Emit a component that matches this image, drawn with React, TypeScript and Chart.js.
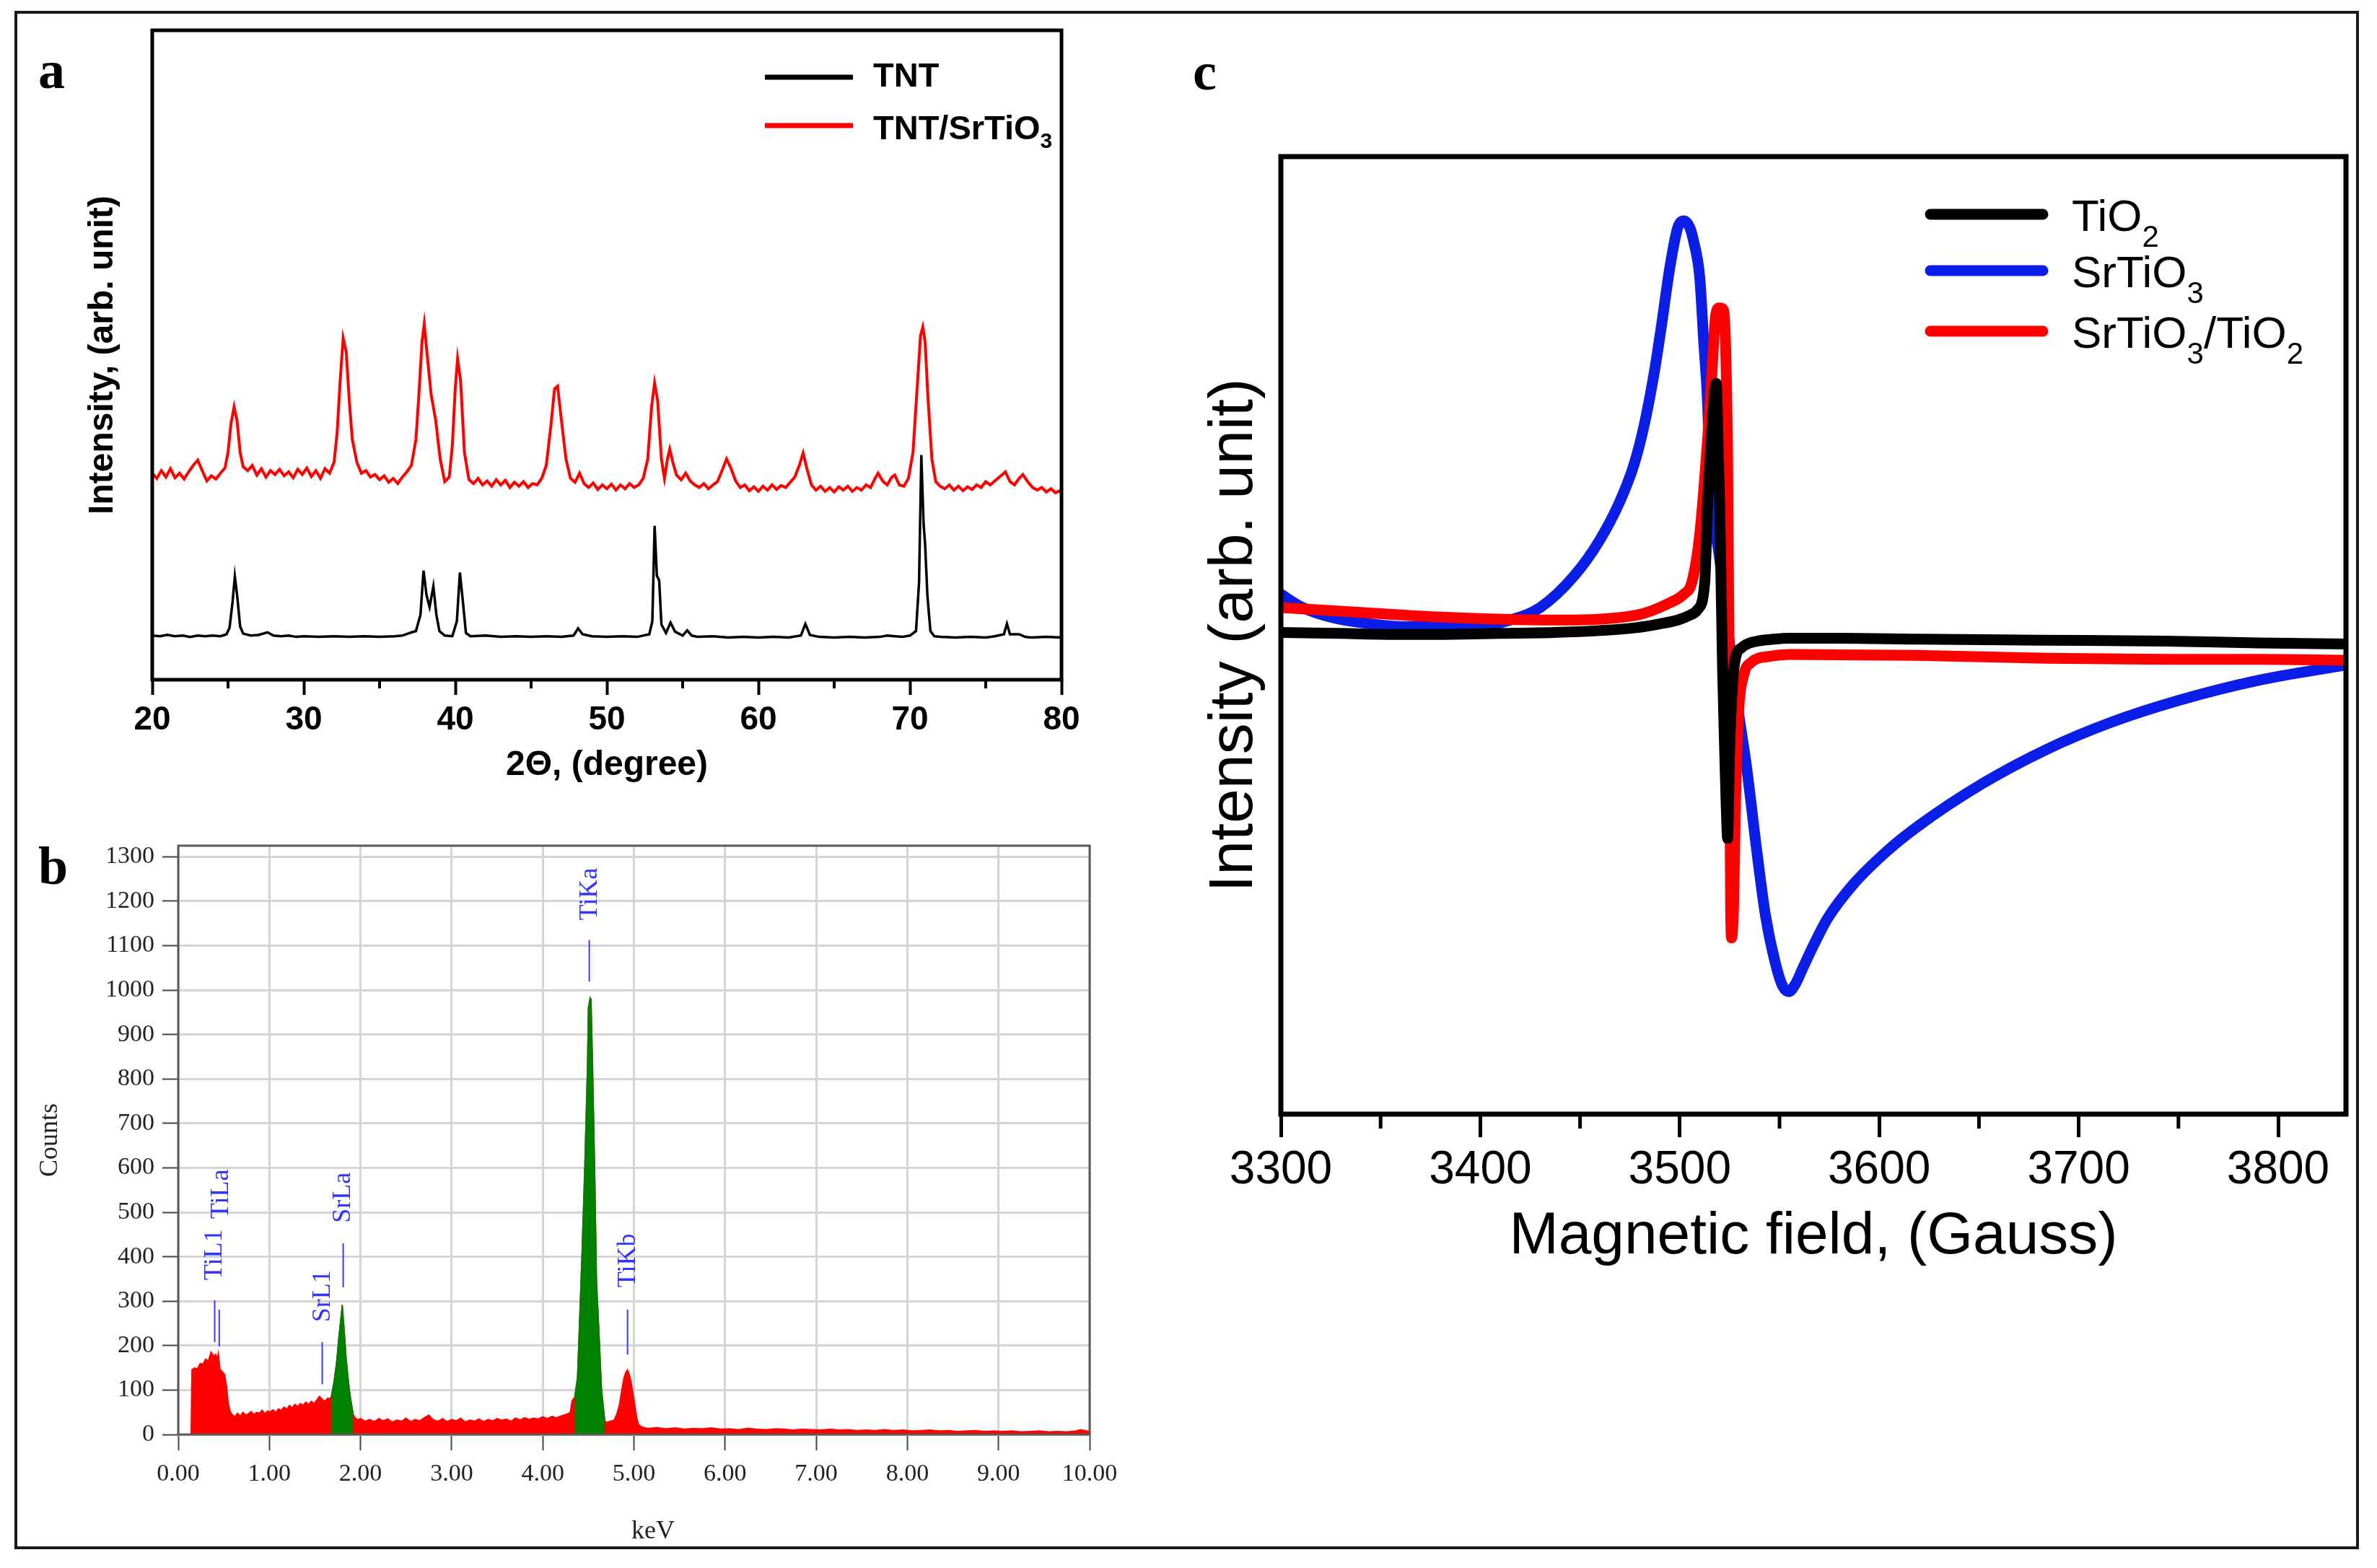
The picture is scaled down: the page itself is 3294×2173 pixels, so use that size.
import React, { useEffect, useRef } from 'react';
import { Chart, registerables } from 'chart.js';

Chart.register(...registerables);

const SANS = "'Liberation Sans', Arial, Helvetica, sans-serif";
const SERIF = "'Liberation Serif', 'Times New Roman', Times, serif";

// ---------------- Panel a : XRD ----------------
const xrdTicks = [20, 30, 40, 50, 60, 70, 80];
const xrdMinorTicks = [25, 35, 45, 55, 65, 75];
const xrdTNT: number[][] = [
  [20.0, 68], [20.5, 67], [21.0, 69], [21.5, 67], [22.0, 68], [22.5, 66], [23.0, 68], [23.5, 67], [24.0, 68], [24.5, 67],
  [24.9, 70], [25.1, 80], [25.3, 120], [25.45, 159], [25.6, 130], [25.8, 82], [26.0, 71], [26.5, 68], [27.0, 69], [27.6, 73],
  [28.0, 68], [28.5, 67], [29.0, 68], [29.5, 66], [30.0, 67], [31.0, 66], [32.0, 67], [33.0, 66], [34.0, 67], [35.0, 66],
  [36.0, 67], [36.5, 68], [37.0, 72], [37.4, 75], [37.7, 100], [37.9, 168], [38.1, 130], [38.3, 112], [38.55, 144], [38.75, 100],
  [38.95, 75], [39.3, 68], [39.8, 67], [40.1, 90], [40.3, 165], [40.5, 120], [40.7, 72], [41.0, 67], [42.0, 68], [43.0, 66],
  [44.0, 67], [45.0, 66], [46.0, 67], [47.0, 66], [47.8, 68], [48.1, 79], [48.4, 70], [49.0, 67], [50.0, 66], [51.0, 67],
  [52.0, 66], [52.8, 70], [53.0, 90], [53.15, 237], [53.3, 160], [53.45, 153], [53.6, 85], [53.9, 72], [54.2, 88], [54.5, 74],
  [55.0, 68], [55.3, 76], [55.6, 68], [56.0, 66], [57.0, 67], [58.0, 65], [59.0, 66], [60.0, 65], [61.0, 66], [62.0, 65],
  [62.8, 68], [63.1, 86], [63.4, 69], [64.0, 66], [65.0, 65], [66.0, 66], [67.0, 65], [68.0, 66], [68.5, 68], [69.0, 67],
  [69.5, 66], [70.0, 68], [70.4, 75], [70.6, 150], [70.75, 346], [70.9, 240], [71.0, 209], [71.15, 130], [71.35, 75], [71.6, 67],
  [72.0, 66], [73.0, 65], [74.0, 66], [75.0, 65], [75.6, 67], [76.2, 70], [76.4, 86], [76.6, 70], [77.2, 70], [77.6, 66],
  [78.0, 65], [79.0, 66], [80.0, 65],
];
const xrdTNTSrTiO3: number[][] = [
  [20.0, 318], [20.3, 310], [20.6, 322], [20.9, 312], [21.2, 325], [21.5, 311], [21.8, 318], [22.1, 309], [22.4, 320], [22.7, 330],
  [23.0, 338], [23.3, 322], [23.6, 306], [23.9, 314], [24.2, 309], [24.5, 318], [24.8, 326], [25.0, 350], [25.2, 395], [25.4, 420],
  [25.6, 398], [25.8, 350], [26.0, 328], [26.3, 322], [26.6, 330], [26.9, 315], [27.2, 325], [27.5, 312], [27.8, 322], [28.1, 316],
  [28.4, 324], [28.7, 314], [29.0, 320], [29.3, 311], [29.6, 324], [29.9, 316], [30.2, 326], [30.5, 313], [30.8, 322], [31.1, 310],
  [31.4, 325], [31.7, 318], [32.0, 335], [32.2, 380], [32.4, 460], [32.6, 526], [32.8, 505], [33.0, 430], [33.2, 370], [33.5, 335],
  [33.8, 318], [34.1, 322], [34.4, 312], [34.7, 316], [35.0, 308], [35.3, 314], [35.6, 304], [35.9, 310], [36.2, 302], [36.5, 312],
  [36.8, 320], [37.1, 330], [37.4, 370], [37.6, 440], [37.8, 520], [37.95, 548], [38.1, 510], [38.4, 440], [38.7, 400], [39.0, 340],
  [39.3, 305], [39.6, 312], [39.8, 360], [40.0, 450], [40.15, 494], [40.35, 460], [40.6, 350], [40.9, 308], [41.2, 302], [41.5, 310],
  [41.8, 300], [42.1, 306], [42.4, 298], [42.7, 308], [43.0, 300], [43.3, 307], [43.6, 296], [43.9, 304], [44.2, 298], [44.5, 305],
  [44.8, 296], [45.1, 302], [45.4, 300], [45.7, 310], [46.0, 330], [46.3, 390], [46.55, 448], [46.75, 452], [47.0, 400], [47.3, 340],
  [47.6, 310], [47.9, 304], [48.2, 318], [48.5, 302], [48.8, 296], [49.1, 303], [49.4, 293], [49.7, 300], [50.0, 294], [50.3, 301],
  [50.6, 292], [50.9, 300], [51.2, 294], [51.5, 302], [51.8, 296], [52.1, 300], [52.4, 310], [52.7, 340], [52.95, 420], [53.15, 457],
  [53.35, 430], [53.6, 340], [53.8, 310], [54.0, 340], [54.15, 355], [54.35, 335], [54.6, 315], [54.9, 308], [55.2, 318], [55.5, 306],
  [55.8, 300], [56.1, 296], [56.4, 302], [56.7, 294], [57.0, 300], [57.3, 305], [57.6, 322], [57.9, 340], [58.2, 325], [58.5, 306],
  [58.8, 296], [59.1, 300], [59.4, 291], [59.7, 297], [60.0, 290], [60.3, 298], [60.6, 292], [60.9, 300], [61.2, 293], [61.5, 299],
  [61.8, 296], [62.1, 304], [62.4, 312], [62.7, 330], [62.95, 349], [63.2, 325], [63.5, 300], [63.8, 292], [64.1, 298], [64.4, 290],
  [64.7, 296], [65.0, 289], [65.3, 297], [65.6, 292], [65.9, 298], [66.2, 290], [66.5, 296], [66.8, 292], [67.1, 300], [67.4, 296],
  [67.7, 310], [67.9, 318], [68.2, 306], [68.5, 300], [68.8, 312], [69.0, 315], [69.3, 300], [69.6, 298], [69.9, 310], [70.2, 350],
  [70.45, 440], [70.7, 530], [70.85, 543], [71.0, 520], [71.2, 430], [71.45, 340], [71.7, 305], [72.0, 298], [72.3, 294], [72.6, 300],
  [72.9, 292], [73.2, 298], [73.5, 291], [73.8, 297], [74.1, 293], [74.4, 300], [74.7, 296], [75.0, 305], [75.3, 300], [75.6, 306],
  [75.9, 312], [76.3, 320], [76.6, 305], [76.9, 300], [77.2, 310], [77.45, 316], [77.8, 304], [78.1, 296], [78.4, 292], [78.7, 296],
  [79.0, 289], [79.3, 294], [79.6, 288], [80.0, 292],
];

// ---------------- Panel b : EDS ----------------
const edsTicksX = [0, 1, 2, 3, 4, 5, 6, 7, 8, 9, 10];
const edsTicksY = [0, 100, 200, 300, 400, 500, 600, 700, 800, 900, 1000, 1100, 1200, 1300];
const edsSpectrum: number[][] = [
  [0.0, 0], [0.1, 0], [0.14, 0], [0.15, 146], [0.18, 150], [0.21, 148], [0.24, 160], [0.27, 158], [0.3, 170], [0.33, 166],
  [0.36, 186], [0.39, 176], [0.41, 181], [0.43, 172], [0.44, 184], [0.46, 146], [0.49, 140], [0.51, 135], [0.53, 110], [0.55, 70],
  [0.57, 52], [0.59, 46], [0.62, 40], [0.65, 48], [0.68, 42], [0.71, 50], [0.74, 44], [0.77, 47], [0.8, 52], [0.83, 45],
  [0.86, 50], [0.89, 48], [0.92, 55], [0.95, 47], [0.98, 53], [1.01, 51], [1.04, 56], [1.07, 50], [1.1, 58], [1.13, 54],
  [1.16, 62], [1.19, 57], [1.22, 66], [1.25, 60], [1.28, 68], [1.31, 63], [1.34, 70], [1.37, 66], [1.4, 73], [1.43, 68],
  [1.46, 75], [1.49, 70], [1.52, 78], [1.55, 86], [1.58, 79], [1.61, 75], [1.64, 82], [1.66, 80], [1.68, 86], [1.71, 120],
  [1.74, 168], [1.76, 215], [1.78, 254], [1.8, 292], [1.82, 240], [1.84, 178], [1.86, 135], [1.88, 97], [1.9, 70], [1.92, 46],
  [1.94, 38], [1.97, 33], [2.0, 36], [2.05, 30], [2.1, 34], [2.15, 29], [2.2, 36], [2.25, 31], [2.3, 35], [2.35, 28],
  [2.4, 33], [2.45, 30], [2.5, 37], [2.55, 29], [2.6, 34], [2.65, 31], [2.7, 38], [2.75, 44], [2.8, 33], [2.85, 30],
  [2.9, 36], [2.95, 29], [3.0, 34], [3.05, 31], [3.1, 37], [3.15, 28], [3.2, 33], [3.25, 30], [3.3, 35], [3.35, 29],
  [3.4, 34], [3.45, 31], [3.5, 36], [3.55, 32], [3.6, 35], [3.65, 30], [3.7, 37], [3.75, 33], [3.8, 38], [3.85, 34],
  [3.9, 37], [3.95, 35], [4.0, 40], [4.05, 36], [4.1, 41], [4.15, 38], [4.2, 42], [4.25, 45], [4.3, 49], [4.32, 76],
  [4.35, 84], [4.38, 128], [4.41, 295], [4.43, 409], [4.46, 602], [4.49, 830], [4.5, 961], [4.52, 983], [4.53, 979], [4.545, 847],
  [4.57, 593], [4.59, 347], [4.62, 216], [4.645, 102], [4.68, 32], [4.7, 27], [4.74, 30], [4.78, 32], [4.81, 45], [4.84, 67],
  [4.87, 105], [4.89, 128], [4.91, 140], [4.93, 146], [4.95, 135], [4.97, 119], [4.99, 92], [5.01, 67], [5.03, 40], [5.05, 23],
  [5.08, 18], [5.12, 15], [5.17, 14], [5.25, 16], [5.35, 13], [5.45, 15], [5.55, 12], [5.65, 14], [5.75, 13], [5.85, 15],
  [5.95, 12], [6.05, 13], [6.15, 11], [6.25, 14], [6.35, 12], [6.45, 11], [6.55, 13], [6.65, 12], [6.75, 10], [6.85, 12],
  [6.95, 11], [7.05, 10], [7.15, 12], [7.25, 10], [7.35, 11], [7.45, 9], [7.55, 10], [7.65, 9], [7.75, 11], [7.85, 9],
  [7.95, 10], [8.05, 8], [8.15, 9], [8.25, 10], [8.35, 8], [8.45, 9], [8.55, 7], [8.65, 8], [8.75, 9], [8.85, 7],
  [8.95, 8], [9.05, 7], [9.15, 8], [9.25, 6], [9.35, 7], [9.45, 8], [9.55, 6], [9.65, 7], [9.75, 6], [9.85, 8],
  [9.9, 11], [9.95, 9], [10.0, 7],
];
const edsGreenWindows = [[1.68, 1.92], [4.35, 4.68]];
const edsLineNames = ['TiL1', 'TiLa', 'SrL1', 'SrLa', 'TiKa', 'TiKb'];
const edsLineKeV = [0.40, 0.45, 1.58, 1.81, 4.51, 4.93];
const edsLineLow = [208, 198, 113, 331, 1019, 180];
const edsLineHigh = [302, 281, 208, 430, 1113, 281];
const edsLabelKeV = [0.40, 0.47, 1.59, 1.81, 4.52, 4.94];
const edsLabelStart = [347, 485, 253, 476, 1157, 331];

// ---------------- Panel c : EPR ----------------
const eprTicks = [3300, 3400, 3500, 3600, 3700, 3800];
const eprMinorTicks = [3350, 3450, 3550, 3650, 3750];
const eprTiO2: number[][] = [
  [3300, 50.3], [3330, 50.2], [3360, 50.1], [3381, 50.1], [3410, 50.2], [3437, 50.3], [3460, 50.5], [3478, 50.8], [3490, 51.2],
  [3499, 51.6], [3505, 52.1], [3509, 52.7], [3512.5, 55.5], [3514, 63.9], [3516, 71], [3518.3, 76.3], [3519.2, 70], [3520, 63.9],
  [3521.4, 47.0], [3522.5, 38], [3523.3, 32], [3524, 28.8], [3525, 38], [3526.5, 45], [3528, 47.7], [3531, 48.7], [3535, 49.2],
  [3539, 49.4], [3547, 49.6], [3555, 49.7], [3580, 49.7], [3620, 49.6], [3680, 49.5], [3744, 49.4], [3790, 49.2], [3834, 49.1],
];
const eprSrTiO3: number[][] = [
  [3300, 54.3], [3310, 53.0], [3325, 51.9], [3345, 51.2], [3365, 50.9], [3381, 50.9], [3400, 51.0], [3415, 51.6], [3430, 52.9],
  [3447, 56.2], [3460, 60.0], [3470, 64.0], [3477, 67.8], [3482, 71.8], [3487, 77.2], [3491, 82.6], [3495, 88.4], [3499, 92.6],
  [3502, 93.3], [3505, 92.6], [3507, 91.1], [3510, 87.4], [3512, 80.7], [3514, 74.0], [3515, 67.2], [3520, 58], [3525, 49],
  [3529, 42.6], [3533.7, 35.9], [3538.6, 27.5], [3543, 20.7], [3548, 15.7], [3551.5, 13.4], [3554.7, 12.8], [3558, 13.6],
  [3562, 15.4], [3567, 17.6], [3574, 20.4], [3587, 24.0], [3603, 27.3], [3619, 30.0], [3651.6, 34.5], [3684, 38.1], [3716, 40.9],
  [3750, 43.2], [3790, 45.3], [3834, 46.9],
];
const eprSrTiO3TiO2: number[][] = [
  [3300, 52.9], [3340, 52.4], [3381, 51.9], [3437, 51.6], [3478, 52.1], [3495, 53.4], [3502, 54.3], [3506, 55.5], [3510, 60.5],
  [3514, 70.6], [3516, 77], [3518, 83.4], [3519.8, 84.2], [3521.6, 84.1], [3523, 80], [3524, 68], [3524.8, 45], [3525.5, 22],
  [3526, 18.4], [3527, 22], [3528, 33], [3529.5, 42], [3532, 45.8], [3536, 47.2], [3545, 47.8], [3555, 48.0], [3619, 47.9],
  [3684, 47.6], [3744, 47.5], [3790, 47.5], [3834, 47.4],
];

const toXY = (rows: number[][]) => rows.map((r) => ({ x: r[0], y: r[1] }));

function drawRich(ctx: CanvasRenderingContext2D, x: number, y: number, parts: [string, boolean][], main: string, sub: string, drop: number) {
  let cx = x;
  for (const [t, isSub] of parts) {
    ctx.font = isSub ? sub : main;
    ctx.fillText(t, cx, isSub ? y + drop : y);
    cx += ctx.measureText(t).width;
  }
}

function makeXrd(canvas: HTMLCanvasElement) {
  const decor = {
    id: 'decorA',
    afterDraw(chart: any) {
      const { ctx, chartArea: ca } = chart;
      const xs = chart.scales.x;
      ctx.save();
      ctx.strokeStyle = '#000';
      ctx.lineWidth = 5;
      ctx.strokeRect(ca.left, ca.top, ca.right - ca.left, ca.bottom - ca.top);
      ctx.lineWidth = 4;
      for (const v of xrdMinorTicks) {
        const px = xs.getPixelForValue(v);
        ctx.beginPath();
        ctx.moveTo(px, ca.bottom);
        ctx.lineTo(px, ca.bottom + 12);
        ctx.stroke();
      }
      // legend
      ctx.lineWidth = 7;
      ctx.lineCap = 'butt';
      ctx.strokeStyle = '#000';
      ctx.beginPath(); ctx.moveTo(1060, 107); ctx.lineTo(1182, 107); ctx.stroke();
      ctx.strokeStyle = '#ff0000';
      ctx.beginPath(); ctx.moveTo(1060, 174); ctx.lineTo(1182, 174); ctx.stroke();
      ctx.fillStyle = '#000';
      ctx.textBaseline = 'alphabetic';
      ctx.textAlign = 'left';
      drawRich(ctx, 1210, 120, [['TNT', false]], `bold 47px ${SANS}`, `bold 30px ${SANS}`, 12);
      drawRich(ctx, 1210, 193, [['TNT/SrTiO', false], ['3', true]], `bold 47px ${SANS}`, `bold 30px ${SANS}`, 12);
      // panel letter
      ctx.font = `bold 74px ${SERIF}`;
      ctx.fillText('a', 53, 122);
      ctx.restore();
    },
  };
  return new Chart(canvas, {
    type: 'line',
    data: {
      datasets: [
        { label: 'TNT', data: toXY(xrdTNT), borderColor: '#000000', borderWidth: 3.5, pointRadius: 0, tension: 0 },
        { label: 'TNT/SrTiO3', data: toXY(xrdTNTSrTiO3), borderColor: '#ff0000', borderWidth: 4, pointRadius: 0, tension: 0 },
      ],
    },
    options: {
      responsive: false,
      animation: false,
      devicePixelRatio: 1,
      layout: { padding: { left: 0, top: 42, right: 129, bottom: 0 } },
      plugins: { legend: { display: false }, tooltip: { enabled: false } },
      scales: {
        x: {
          type: 'linear',
          min: 20,
          max: 80,
          afterFit: (s: any) => { s.height = 158; },
          afterBuildTicks: (s: any) => { s.ticks = xrdTicks.map((v) => ({ value: v })); },
          ticks: { font: { family: SANS, size: 46, weight: 'bold' }, color: '#000', padding: 8, maxRotation: 0, autoSkip: false, callback: (v: any) => String(v) },
          grid: { display: true, drawOnChartArea: false, drawTicks: true, tickLength: 21, tickWidth: 4, tickColor: '#000' },
          border: { display: false },
          title: { display: true, text: '2Θ, (degree)', color: '#000', font: { family: SANS, size: 48, weight: 'bold' }, padding: { top: 0, bottom: 10 } },
        },
        y: {
          type: 'linear',
          min: 0,
          max: 1000,
          afterFit: (s: any) => { s.width = 211; },
          ticks: { display: false },
          grid: { display: false },
          border: { display: false },
          title: { display: true, text: 'Intensity, (arb. unit)', color: '#000', font: { family: SANS, size: 48, weight: 'bold' }, padding: { top: 114, bottom: 0 } },
        },
      },
    } as any,
    plugins: [decor],
  });
}

function makeEds(canvas: HTMLCanvasElement) {
  const decor = {
    id: 'decorB',
    afterDraw(chart: any) {
      const { ctx, chartArea: ca } = chart;
      const xs = chart.scales.x;
      const ys = chart.scales.y;
      ctx.save();
      ctx.strokeStyle = '#5a5a5a';
      ctx.lineWidth = 3;
      ctx.strokeRect(ca.left, ca.top, ca.right - ca.left, ca.bottom - ca.top);
      // element markers
      ctx.strokeStyle = '#3a3aff';
      ctx.lineWidth = 2;
      ctx.fillStyle = '#3333ff';
      ctx.font = `36px ${SERIF}`;
      for (let i = 0; i < edsLineNames.length; i++) {
        const lx = xs.getPixelForValue(edsLineKeV[i]);
        ctx.beginPath();
        ctx.moveTo(lx, ys.getPixelForValue(edsLineLow[i]));
        ctx.lineTo(lx, ys.getPixelForValue(edsLineHigh[i]));
        ctx.stroke();
        const tx = xs.getPixelForValue(edsLabelKeV[i]);
        const ty = ys.getPixelForValue(edsLabelStart[i]);
        ctx.save();
        ctx.translate(tx, ty);
        ctx.rotate(-Math.PI / 2);
        ctx.textAlign = 'left';
        ctx.textBaseline = 'middle';
        ctx.fillText(edsLineNames[i], 0, 0);
        ctx.restore();
      }
      // x-axis title (slightly right of centre, as in the source)
      ctx.fillStyle = '#222';
      ctx.font = `36px ${SERIF}`;
      ctx.textAlign = 'center';
      ctx.textBaseline = 'middle';
      ctx.fillText('keV', 905, 1023);
      ctx.fillStyle = '#000';
      ctx.textAlign = 'left';
      ctx.textBaseline = 'alphabetic';
      ctx.font = `bold 74px ${SERIF}`;
      ctx.fillText('b', 53, 125);
      ctx.restore();
    },
  };
  const all = toXY(edsSpectrum);
  const greens = edsGreenWindows.map(([lo, hi]) => ({
    label: 'peak',
    data: all.filter((p) => p.x >= lo && p.x <= hi),
    borderColor: '#008000',
    backgroundColor: '#008000',
    borderWidth: 1.5,
    pointRadius: 0,
    tension: 0,
    fill: 'origin',
    order: 0,
  }));
  return new Chart(canvas, {
    type: 'line',
    data: {
      datasets: [
        { label: 'spectrum', data: all, borderColor: '#ff0000', backgroundColor: '#ff0000', borderWidth: 1.5, pointRadius: 0, tension: 0, fill: 'origin', order: 1 },
        ...greens,
      ],
    },
    options: {
      responsive: false,
      animation: false,
      devicePixelRatio: 1,
      layout: { padding: { left: 0, top: 72, right: 90, bottom: 0 } },
      plugins: { legend: { display: false }, tooltip: { enabled: false } },
      scales: {
        x: {
          type: 'linear',
          min: 0,
          max: 10,
          afterFit: (s: any) => { s.height = 185; },
          afterBuildTicks: (s: any) => { s.ticks = edsTicksX.map((v) => ({ value: v })); },
          ticks: { font: { family: SERIF, size: 34 }, color: '#222', padding: 13, maxRotation: 0, autoSkip: false, callback: (v: any) => Number(v).toFixed(2) },
          grid: { display: true, drawOnChartArea: true, color: '#d4d4d4', lineWidth: 3, drawTicks: true, tickLength: 22, tickWidth: 2, tickColor: '#444' },
          border: { display: false },
          title: { display: false },
        },
        y: {
          type: 'linear',
          min: 0,
          max: 1325,
          afterFit: (s: any) => { s.width = 247; },
          afterBuildTicks: (s: any) => { s.ticks = edsTicksY.map((v) => ({ value: v })); },
          ticks: { font: { family: SERIF, size: 34 }, color: '#222', padding: 11, autoSkip: false, callback: (v: any) => String(v) },
          grid: { display: true, drawOnChartArea: true, color: '#d4d4d4', lineWidth: 3, drawTicks: true, tickLength: 22, tickWidth: 2, tickColor: '#444' },
          border: { display: false },
          title: { display: true, text: 'Counts', color: '#222', font: { family: SERIF, size: 36 }, padding: { top: 48, bottom: 0 } },
        },
      },
    } as any,
    plugins: [decor],
  });
}

function makeEpr(canvas: HTMLCanvasElement) {
  const decor = {
    id: 'decorC',
    afterDraw(chart: any) {
      const { ctx, chartArea: ca } = chart;
      const xs = chart.scales.x;
      ctx.save();
      ctx.strokeStyle = '#000';
      ctx.lineWidth = 7;
      ctx.strokeRect(ca.left, ca.top, ca.right - ca.left, ca.bottom - ca.top);
      ctx.lineWidth = 5;
      for (const v of eprMinorTicks) {
        const px = xs.getPixelForValue(v);
        ctx.beginPath();
        ctx.moveTo(px, ca.bottom);
        ctx.lineTo(px, ca.bottom + 20);
        ctx.stroke();
      }
      // legend
      const rows: [string, number, [string, boolean][]][] = [
        ['#000000', 297, [['TiO', false], ['2', true]]],
        ['#0a1ee8', 375, [['SrTiO', false], ['3', true]]],
        ['#ff0000', 459, [['SrTiO', false], ['3', true], ['/TiO', false], ['2', true]]],
      ];
      ctx.lineCap = 'round';
      ctx.lineWidth = 15;
      ctx.fillStyle = '#000';
      ctx.textAlign = 'left';
      ctx.textBaseline = 'alphabetic';
      for (const [color, y, parts] of rows) {
        ctx.strokeStyle = color;
        ctx.beginPath();
        ctx.moveTo(1075, y);
        ctx.lineTo(1231, y);
        ctx.stroke();
        drawRich(ctx, 1271, y + 23, parts, `62px ${SANS}`, `42px ${SANS}`, 22);
      }
      ctx.font = `bold 74px ${SERIF}`;
      ctx.fillText('c', 53, 124);
      ctx.restore();
    },
  };
  const line = (label: string, rows: number[][], color: string, order: number) => ({
    label,
    data: toXY(rows),
    borderColor: color,
    borderWidth: 15,
    borderCapStyle: 'round',
    borderJoinStyle: 'round',
    pointRadius: 0,
    cubicInterpolationMode: 'monotone',
    order,
  });
  return new Chart(canvas, {
    type: 'line',
    data: {
      datasets: [
        line('TiO2', eprTiO2, '#000000', 0),
        line('SrTiO3', eprSrTiO3, '#0a1ee8', 2),
        line('SrTiO3/TiO2', eprSrTiO3TiO2, '#ff0000', 1),
      ],
    },
    options: {
      responsive: false,
      animation: false,
      devicePixelRatio: 1,
      layout: { padding: { left: 0, top: 217, right: 18, bottom: 0 } },
      plugins: { legend: { display: false }, tooltip: { enabled: false } },
      scales: {
        x: {
          type: 'linear',
          min: 3300,
          max: 3834,
          afterFit: (s: any) => { s.height = 256; },
          afterBuildTicks: (s: any) => { s.ticks = eprTicks.map((v) => ({ value: v })); },
          ticks: { font: { family: SANS, size: 64 }, color: '#000', padding: 8, maxRotation: 0, autoSkip: false, callback: (v: any) => String(v) },
          grid: { display: true, drawOnChartArea: false, drawTicks: true, tickLength: 32, tickWidth: 5, tickColor: '#000' },
          border: { display: false },
          title: { display: true, text: 'Magnetic field, (Gauss)', color: '#000', font: { family: SANS, size: 82 }, padding: { top: 0, bottom: 36 } },
        },
        y: {
          type: 'linear',
          min: 0,
          max: 100,
          afterFit: (s: any) => { s.width = 175; },
          ticks: { display: false },
          grid: { display: false },
          border: { display: false },
          title: { display: true, text: 'Intensity (arb. unit)', color: '#000', font: { family: SANS, size: 86 }, padding: { top: 60, bottom: 0 } },
        },
      },
    } as any,
    plugins: [decor],
  });
}

export default function App() {
  const aRef = useRef<HTMLCanvasElement>(null);
  const bRef = useRef<HTMLCanvasElement>(null);
  const cRef = useRef<HTMLCanvasElement>(null);

  useEffect(() => {
    Chart.defaults.font.family = SANS;
    const charts = [
      makeXrd(aRef.current as HTMLCanvasElement),
      makeEds(bRef.current as HTMLCanvasElement),
      makeEpr(cRef.current as HTMLCanvasElement),
    ];
    return () => charts.forEach((c) => c.destroy());
  }, []);

  return (
    <div style={{ position: 'absolute', left: 0, top: 0, width: 3294, height: 2173, background: '#ffffff', overflow: 'hidden' }}>
      <canvas ref={aRef} width={1600} height={1100} style={{ position: 'absolute', left: 0, top: 0 }} />
      <canvas ref={bRef} width={1600} height={1073} style={{ position: 'absolute', left: 0, top: 1100 }} />
      <canvas ref={cRef} width={1669} height={1800} style={{ position: 'absolute', left: 1600, top: 0 }} />
      <div style={{ position: 'absolute', left: 20, top: 15, width: 3249, height: 2132, border: '4px solid #1a1a1a', boxSizing: 'border-box', pointerEvents: 'none' }} />
    </div>
  );
}
